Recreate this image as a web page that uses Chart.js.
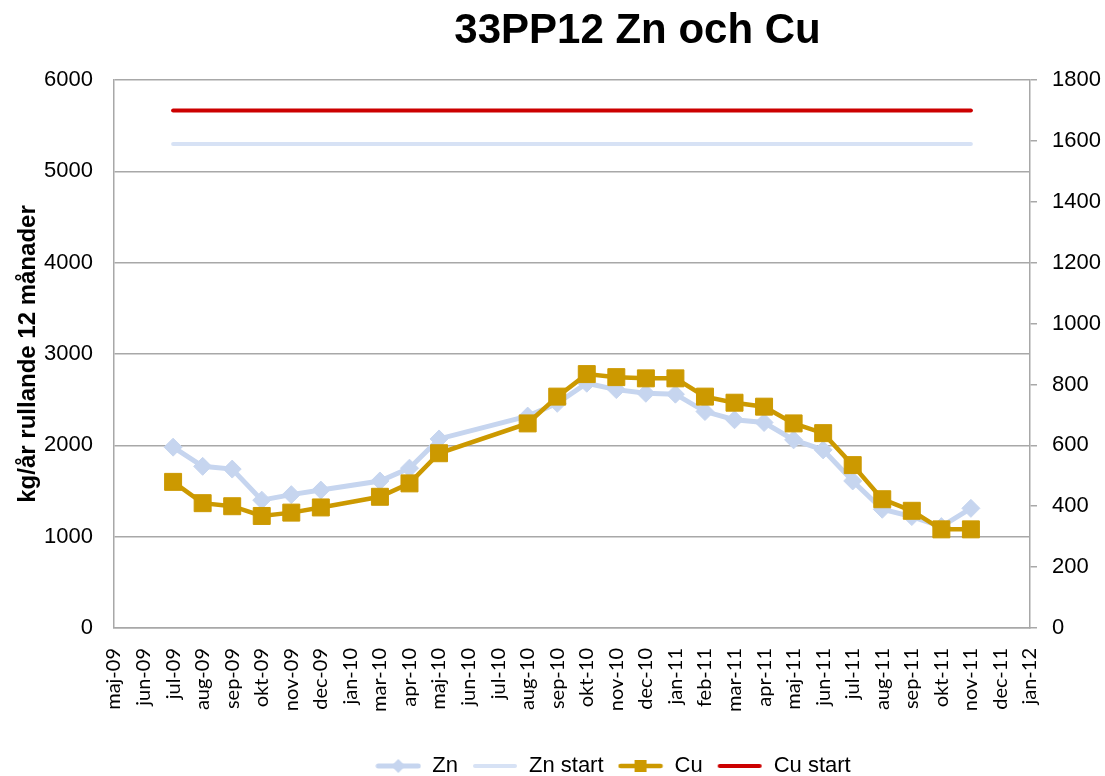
<!DOCTYPE html>
<html>
<head>
<meta charset="utf-8">
<script src="https://cdn.jsdelivr.net/npm/chart.js@4"></script>
<style>
	body { margin: 0; background: #fff; }
</style>
</head>
<body>
<canvas id="grafico" width="1105" height="776"></canvas>
<script>
const manader = ['maj-09','jun-09','jul-09','aug-09','sep-09','okt-09','nov-09','dec-09','jan-10','mar-10',
	'apr-10','maj-10','jun-10','jul-10','aug-10','sep-10','okt-10','nov-10','dec-10','jan-11','feb-11',
	'mar-11','apr-11','maj-11','jun-11','jul-11','aug-11','sep-11','okt-11','nov-11','dec-11','jan-12'];

// kg/år, vänster axel
const zn = [null, null, 1980, 1770, 1740, 1400, 1460, 1510, null, 1610, 1750, 2070, null, null, 2320, 2460,
	2680, 2610, 2570, 2560, 2370, 2280, 2250, 2060, 1950, 1610, 1300, 1220, 1110, 1310, null, null];
const znStart = [null, null, 5300, null, null, null, null, null, null, null, null, null, null, null, null, null,
	null, null, null, null, null, null, null, null, null, null, null, null, null, 5300, null, null];

// kg/år, höger axel
const cu = [null, null, 480, 410, 400, 368, 379, 396, null, 431, 475, 574, null, null, 672, 760,
	834, 824, 820, 820, 760, 740, 727, 672, 640, 535, 423, 385, 324, 324, null, null];
const cuStart = [null, null, 1700, null, null, null, null, null, null, null, null, null, null, null, null, null,
	null, null, null, null, null, null, null, null, null, null, null, null, null, 1700, null, null];

const vansterTicks = [0, 1000, 2000, 3000, 4000, 5000, 6000];
const hogerTicks = [0, 200, 400, 600, 800, 1000, 1200, 1400, 1600, 1800];

const ARIAL = "'Liberation Sans', Arial, sans-serif";
const GRID = '#a8a8a8';

function legendSymbol(ds){
	var c = document.createElement('canvas');
	c.width = 46; c.height = 22;
	var ctx = c.getContext('2d');
	ctx.strokeStyle = ds.borderColor;
	ctx.lineWidth = ds.borderWidth;
	ctx.lineCap = 'round';
	ctx.beginPath();
	ctx.moveTo(3, 11); ctx.lineTo(43, 11);
	ctx.stroke();
	ctx.fillStyle = ds.borderColor;
	if(ds.pointStyle === 'rectRot'){
		ctx.beginPath();
		ctx.moveTo(23, 4); ctx.lineTo(30, 11); ctx.lineTo(23, 18); ctx.lineTo(16, 11);
		ctx.closePath(); ctx.fill();
	}else if(ds.pointStyle === 'rect'){
		ctx.fillRect(17, 5, 12, 12);
	}
	return c;
}

const flyttaBlock = {
	id: 'flyttaBlock',
	afterLayout: function(chart){
		chart.titleBlock.left = 170;
		chart.legend.left = 121;
		chart.legend.top += 11;
		chart.legend.bottom += 11;
	}
};

new Chart(document.getElementById('grafico'), {
	type: 'line',
	data: {
		labels: manader,
		datasets: [
			{
				label: 'Zn', data: zn, yAxisID: 'y',
				borderColor: '#c6d5ef', backgroundColor: '#c6d5ef', borderWidth: 5,
				pointStyle: 'rectRot', pointRadius: 9, pointBorderWidth: 1, pointHoverRadius: 9,
				spanGaps: true, order: 3
			},
			{
				label: 'Zn start', data: znStart, yAxisID: 'y',
				borderColor: '#d7e2f5', backgroundColor: '#d7e2f5', borderWidth: 4, borderCapStyle: 'round',
				pointRadius: 0, pointHoverRadius: 0, spanGaps: true, order: 2
			},
			{
				label: 'Cu', data: cu, yAxisID: 'y1',
				borderColor: '#cc9900', backgroundColor: '#cc9900', borderWidth: 4.5,
				pointStyle: 'rect', pointRadius: 12, pointBorderWidth: 1, pointHoverRadius: 12,
				spanGaps: true, order: 1
			},
			{
				label: 'Cu start', data: cuStart, yAxisID: 'y1',
				borderColor: '#cc0000', backgroundColor: '#cc0000', borderWidth: 4, borderCapStyle: 'round',
				pointRadius: 0, pointHoverRadius: 0, spanGaps: true, order: 0
			}
		]
	},
	options: {
		responsive: false,
		animation: false,
		layout: { padding: 0 },
		plugins: {
			title: {
				display: true,
				text: '33PP12 Zn och Cu',
				color: '#000',
				font: { family: ARIAL, size: 42, weight: 'bold' },
				padding: { top: 6, bottom: 23.6 }
			},
			legend: {
				position: 'bottom',
				labels: {
					usePointStyle: true,
					pointStyleWidth: 46,
					padding: 14,
					color: '#000',
					font: { family: ARIAL, size: 22 },
					generateLabels: function(chart){
						return chart.data.datasets.map(function(ds, i){
							return {
								text: ds.label,
								pointStyle: legendSymbol(ds),
								fontColor: '#000',
								fillStyle: 'transparent',
								strokeStyle: 'transparent',
								lineWidth: 0,
								hidden: false,
								datasetIndex: i
							};
						});
					}
				}
			},
			tooltip: { enabled: false }
		},
		scales: {
			x: {
				type: 'category',
				offset: false,
				grid: { display: false },
				border: { display: true, color: GRID, width: 1.5 },
				ticks: {
					autoSkip: false, minRotation: 90, maxRotation: 90, padding: 12,
					color: '#000', font: { family: "Lato, 'Open Sans', sans-serif", size: 20 }
				},
				afterFit: function(s){ s.height = 102; }
			},
			y: {
				position: 'left',
				min: 0, max: 6000,
				afterBuildTicks: function(s){ s.ticks = vansterTicks.map(function(v){ return {value: v}; }); },
				ticks: {
					padding: 21, color: '#000', font: { family: ARIAL, size: 22 },
					callback: function(v){ return String(v); }
				},
				grid: { color: GRID, lineWidth: 1.5, drawTicks: false },
				border: { display: true, color: GRID, width: 1.5 },
				title: {
					display: true, text: 'kg/år rullande 12 månader', color: '#000',
					font: { family: ARIAL, size: 24, weight: 'bold' },
					padding: { top: 14, bottom: 0 }
				},
				afterFit: function(s){ s.width = 114; }
			},
			y1: {
				position: 'right',
				min: 0, max: 1800,
				afterBuildTicks: function(s){ s.ticks = hogerTicks.map(function(v){ return {value: v}; }); },
				ticks: {
					padding: 15, color: '#000', font: { family: ARIAL, size: 22 },
					callback: function(v){ return String(v); }
				},
				grid: { drawOnChartArea: false, drawTicks: true, tickLength: 7, color: GRID, lineWidth: 1.5 },
				border: { display: true, color: GRID, width: 1.5 },
				afterFit: function(s){ s.width = 75; }
			}
		}
	},
	plugins: [flyttaBlock]
});
</script>
</body>
</html>
